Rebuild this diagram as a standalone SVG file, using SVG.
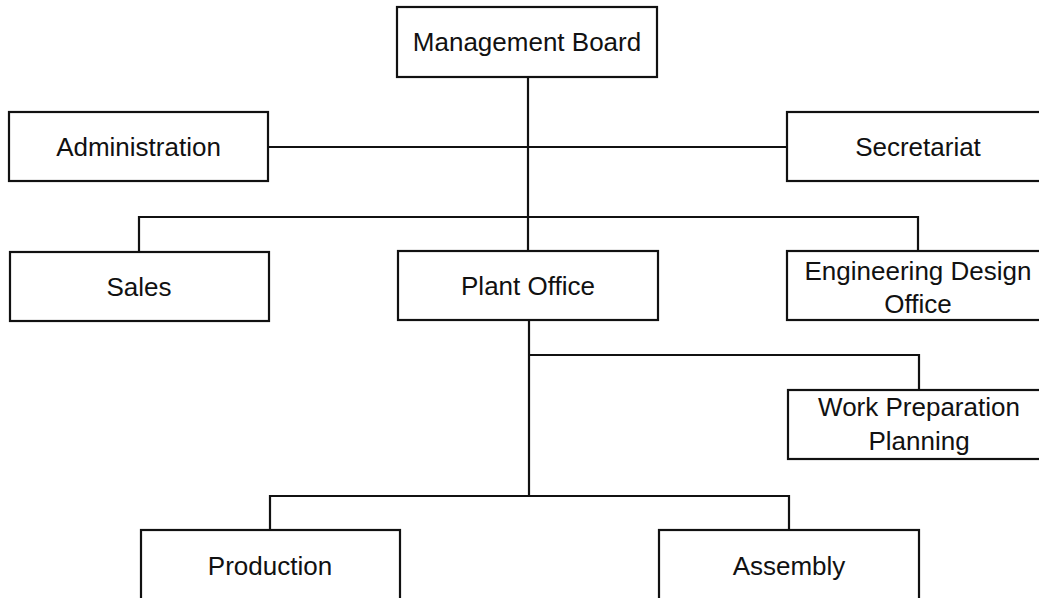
<svg xmlns="http://www.w3.org/2000/svg" width="1039" height="598" viewBox="0 0 1039 598">
<style>
.box{fill:#fff;stroke:#111;stroke-width:2.2}
.lbl{font-family:"Liberation Sans",Arial,sans-serif;font-size:26px;fill:#111;text-anchor:middle}
.con{fill:none;stroke:#111;stroke-width:2.2}
</style>
<rect width="1039" height="598" fill="#fff"/>
<g id="connectors">
<path class="con" d="M528 77V251"/>
<path class="con" d="M268 147H787"/>
<path class="con" d="M139 252V217H918V251"/>
<path class="con" d="M529 320V496"/>
<path class="con" d="M529 355H919V390"/>
<path class="con" d="M270 530V496H789V530"/>
</g>
<g id="management-board"><rect class="box" x="397" y="7" width="260" height="70"/><text class="lbl" x="527" y="51">Management Board</text></g>
<g id="administration"><rect class="box" x="9" y="112" width="259" height="69"/><text class="lbl" x="138.5" y="156">Administration</text></g>
<g id="secretariat"><rect class="box" x="787" y="112" width="262" height="69"/><text class="lbl" x="918" y="156">Secretariat</text></g>
<g id="sales"><rect class="box" x="10" y="252" width="259" height="69"/><text class="lbl" x="139" y="296">Sales</text></g>
<g id="plant-office"><rect class="box" x="398" y="251" width="260" height="69"/><text class="lbl" x="528" y="295">Plant Office</text></g>
<g id="engineering-design-office"><rect class="box" x="787" y="251" width="262" height="69"/><text class="lbl" x="918" y="280">Engineering Design</text><text class="lbl" x="918" y="313">Office</text></g>
<g id="work-preparation-planning"><rect class="box" x="788" y="390" width="262" height="69"/><text class="lbl" x="919" y="416">Work Preparation</text><text class="lbl" x="919" y="450">Planning</text></g>
<g id="production"><rect class="box" x="141" y="530" width="259" height="72"/><text class="lbl" x="270" y="575">Production</text></g>
<g id="assembly"><rect class="box" x="659" y="530" width="260" height="72"/><text class="lbl" x="789" y="575">Assembly</text></g>
</svg>
